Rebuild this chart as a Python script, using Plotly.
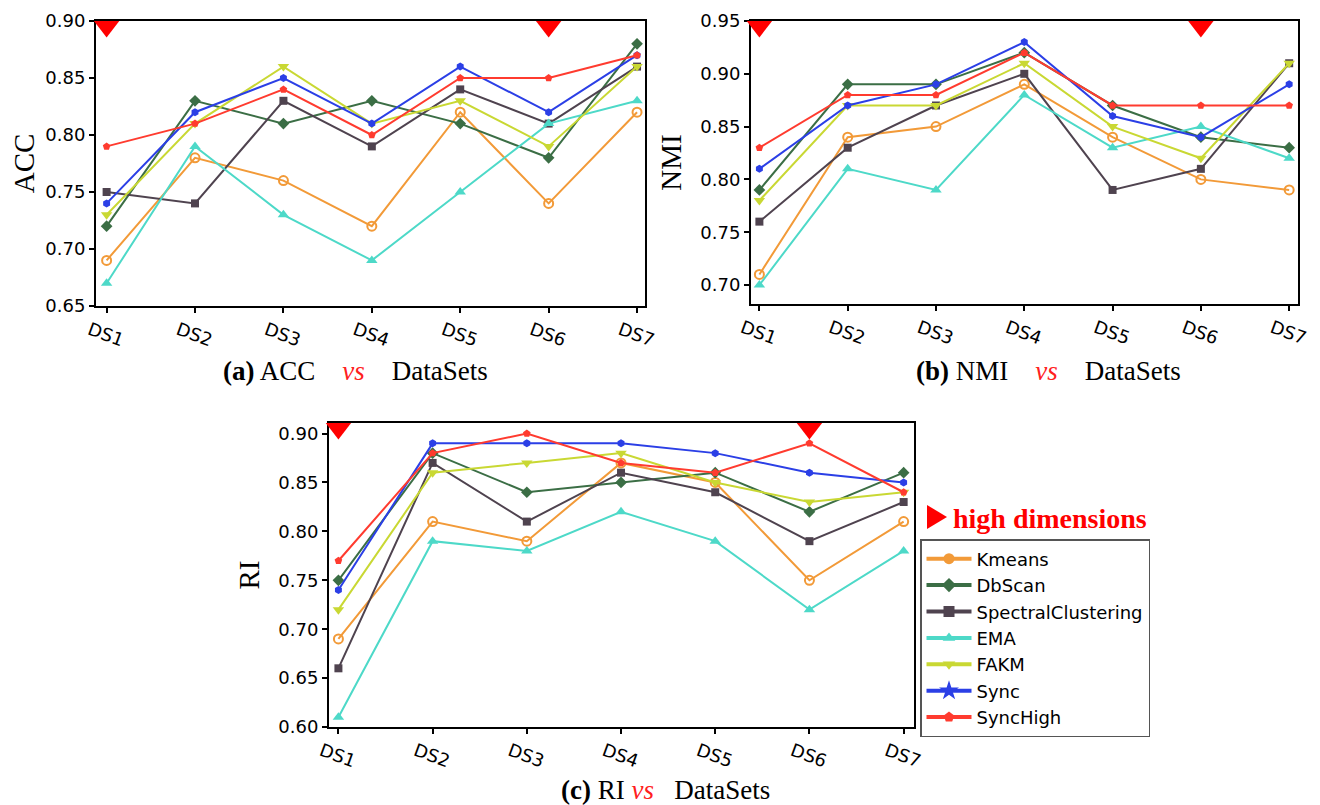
import plotly.graph_objects as go

datasets = ["DS1", "DS2", "DS3", "DS4", "DS5", "DS6", "DS7"]
methods = ["Kmeans", "DbScan", "SpectralClustering", "EMA", "FAKM", "Sync", "SyncHigh"]
high_dim_sets = ["DS1", "DS6"]

acc_kmeans = [0.69, 0.78, 0.76, 0.72, 0.82, 0.74, 0.82]
acc_dbscan = [0.72, 0.83, 0.81, 0.83, 0.81, 0.78, 0.88]
acc_spectral = [0.75, 0.74, 0.83, 0.79, 0.84, 0.81, 0.86]
acc_ema = [0.67, 0.79, 0.73, 0.69, 0.75, 0.81, 0.83]
acc_fakm = [0.73, 0.81, 0.86, 0.81, 0.83, 0.79, 0.86]
acc_sync = [0.74, 0.82, 0.85, 0.81, 0.86, 0.82, 0.87]
acc_synchigh = [0.79, 0.81, 0.84, 0.80, 0.85, 0.85, 0.87]

nmi_kmeans = [0.71, 0.84, 0.85, 0.89, 0.84, 0.80, 0.79]
nmi_dbscan = [0.79, 0.89, 0.89, 0.92, 0.87, 0.84, 0.83]
nmi_spectral = [0.76, 0.83, 0.87, 0.90, 0.79, 0.81, 0.91]
nmi_ema = [0.70, 0.81, 0.79, 0.88, 0.83, 0.85, 0.82]
nmi_fakm = [0.78, 0.87, 0.87, 0.91, 0.85, 0.82, 0.91]
nmi_sync = [0.81, 0.87, 0.89, 0.93, 0.86, 0.84, 0.89]
nmi_synchigh = [0.83, 0.88, 0.88, 0.92, 0.87, 0.87, 0.87]

ri_kmeans = [0.69, 0.81, 0.79, 0.87, 0.85, 0.75, 0.81]
ri_dbscan = [0.75, 0.88, 0.84, 0.85, 0.86, 0.82, 0.86]
ri_spectral = [0.66, 0.87, 0.81, 0.86, 0.84, 0.79, 0.83]
ri_ema = [0.61, 0.79, 0.78, 0.82, 0.79, 0.72, 0.78]
ri_fakm = [0.72, 0.86, 0.87, 0.88, 0.85, 0.83, 0.84]
ri_sync = [0.74, 0.89, 0.89, 0.89, 0.88, 0.86, 0.85]
ri_synchigh = [0.77, 0.88, 0.90, 0.87, 0.86, 0.89, 0.84]

acc_ticks = [0.65, 0.70, 0.75, 0.80, 0.85, 0.90]
nmi_ticks = [0.70, 0.75, 0.80, 0.85, 0.90, 0.95]
ri_ticks = [0.60, 0.65, 0.70, 0.75, 0.80, 0.85, 0.90]

colors = ["#F29A38", "#3B6E45", "#4F434F", "#4DD9C8", "#C9D833", "#2B3FE6", "#FF3B2F"]
plot_symbols = ["circle-open", "diamond", "square", "triangle-up", "triangle-down", "hexagon", "pentagon"]
legend_symbols = ["circle", "diamond", "square", "triangle-up", "triangle-down", "star", "pentagon"]

# the page body adds an 8px margin; lay out in window pixels and convert
OFF = 8
W, H = 1320 - OFF, 805 - OFF


def px(x):
    return (x - OFF) / W


def py(y):
    return 1 - (y - OFF) / H


panels = [
    dict(series=[acc_kmeans, acc_dbscan, acc_spectral, acc_ema, acc_fakm, acc_sync, acc_synchigh],
         ticks=acc_ticks, yrange=[0.65, 0.90], xrange=[-0.12, 6.09], title="ACC",
         xdom=[px(96), px(645)], ydom=[py(306), py(21)]),
    dict(series=[nmi_kmeans, nmi_dbscan, nmi_spectral, nmi_ema, nmi_fakm, nmi_sync, nmi_synchigh],
         ticks=nmi_ticks, yrange=[0.682, 0.95], xrange=[-0.095, 6.10], title="NMI",
         xdom=[px(751), px(1298)], ydom=[py(304), py(21)]),
    dict(series=[ri_kmeans, ri_dbscan, ri_spectral, ri_ema, ri_fakm, ri_sync, ri_synchigh],
         ticks=ri_ticks, yrange=[0.60, 0.9108], xrange=[-0.10, 6.11], title="RI",
         xdom=[px(329), px(914)], ydom=[py(727), py(423)]),
]

fig = go.Figure()
layout = {}
tri_size = 22
for p_i, p in enumerate(panels):
    sfx = "" if p_i == 0 else str(p_i + 1)
    xa, ya = "x" + sfx, "y" + sfx
    for m_i, m in enumerate(methods):
        sym = plot_symbols[m_i]
        marker = dict(symbol=sym, size=8, color=colors[m_i])
        if sym == "circle-open":
            marker.update(size=9, line=dict(width=2, color=colors[m_i]))
        elif sym.startswith("triangle"):
            marker.update(size=10)
        elif sym == "diamond":
            marker.update(size=9)
        fig.add_trace(go.Scatter(
            x=datasets, y=p["series"][m_i], mode="lines+markers", name=m,
            line=dict(color=colors[m_i], width=2), marker=marker,
            showlegend=False, xaxis=xa, yaxis=ya, cliponaxis=False))
    # high-dimension markers at the top of each panel
    dom_h = (p["ydom"][1] - p["ydom"][0]) * H
    y_top = p["yrange"][1]
    off = (tri_size / 4) * (p["yrange"][1] - p["yrange"][0]) / dom_h
    fig.add_trace(go.Scatter(
        x=high_dim_sets, y=[y_top - off] * len(high_dim_sets), mode="markers",
        marker=dict(symbol="triangle-down", size=tri_size, color="#FF0000"),
        showlegend=False, xaxis=xa, yaxis=ya, cliponaxis=False, hoverinfo="skip"))
    layout["xaxis" + sfx] = dict(
        domain=p["xdom"], anchor=ya, type="category", range=p["xrange"], automargin=False,
        showline=True, mirror=True, linecolor="black", linewidth=2,
        ticks="outside", ticklen=5, tickwidth=1.5, tickcolor="black",
        tickangle=20, ticklabelshift=-17, showgrid=False, zeroline=False, layer="below traces",
        tickfont=dict(family="DejaVu Sans", size=18, color="black"))
    layout["yaxis" + sfx] = dict(
        domain=p["ydom"], anchor=xa, range=p["yrange"], tickvals=p["ticks"], automargin=False,
        tickformat=".2f", showline=True, mirror=True, linecolor="black", linewidth=2,
        ticks="outside", ticklen=5, tickwidth=1.5, tickcolor="black",
        showgrid=False, zeroline=False, layer="below traces",
        tickfont=dict(family="DejaVu Sans", size=18, color="black"),
        title=dict(text=p["title"], standoff=10,
                   font=dict(family="Liberation Serif", size=29, color="black")))

# legend-only entries
for m_i, m in enumerate(methods):
    sym = legend_symbols[m_i]
    size = 15 if sym == "star" else 11
    fig.add_trace(go.Scatter(
        x=[None], y=[None], mode="lines+markers", name=m,
        line=dict(color=colors[m_i], width=4),
        marker=dict(symbol=sym, size=size, color=colors[m_i]),
        xaxis="x3", yaxis="y3", showlegend=True))

serif = "Liberation Serif"
sp = "&nbsp;" * 4
titles = [
    ("<b>(a)</b> ACC" + sp + "<i><span style='color:#FF2020'>vs</span></i>" + sp + "DataSets", 355, 371),
    ("<b>(b)</b> NMI" + sp + "<i><span style='color:#FF2020'>vs</span></i>" + sp + "DataSets", 1048, 371),
    ("<b>(c)</b> RI <i><span style='color:#FF2020'>vs</span></i>" + "&nbsp;" * 3 + "DataSets", 666, 790),
]
annotations = [dict(text=t, x=px(x), y=py(y), xref="paper", yref="paper", showarrow=False,
                    xanchor="center", yanchor="middle",
                    font=dict(family=serif, size=27, color="black")) for t, x, y in titles]
annotations.append(dict(text="<b>high dimensions</b>", x=px(951), y=py(518),
                        xref="paper", yref="paper", showarrow=False, xanchor="left",
                        yanchor="middle", font=dict(family=serif, size=28, color="#FF0000")))

shapes = [dict(type="path", xref="paper", yref="paper",
               path="M {:.5f},{:.5f} L {:.5f},{:.5f} L {:.5f},{:.5f} Z".format(
                   px(927), py(505), px(947), py(517), px(927), py(529)),
               fillcolor="#FF0000", line=dict(width=0))]

fig.update_layout(
    width=W, height=H, margin=dict(l=0, r=0, t=0, b=0, autoexpand=False),
    paper_bgcolor="white", plot_bgcolor="white",
    annotations=annotations, shapes=shapes,
    legend=dict(x=px(920), y=py(539), xanchor="left", yanchor="top",
                bgcolor="white", bordercolor="#555555", borderwidth=1.5,
                font=dict(family="DejaVu Sans", size=18, color="black"),
                itemwidth=45, tracegroupgap=0),
    **layout)

fig.write_html("out.html")
